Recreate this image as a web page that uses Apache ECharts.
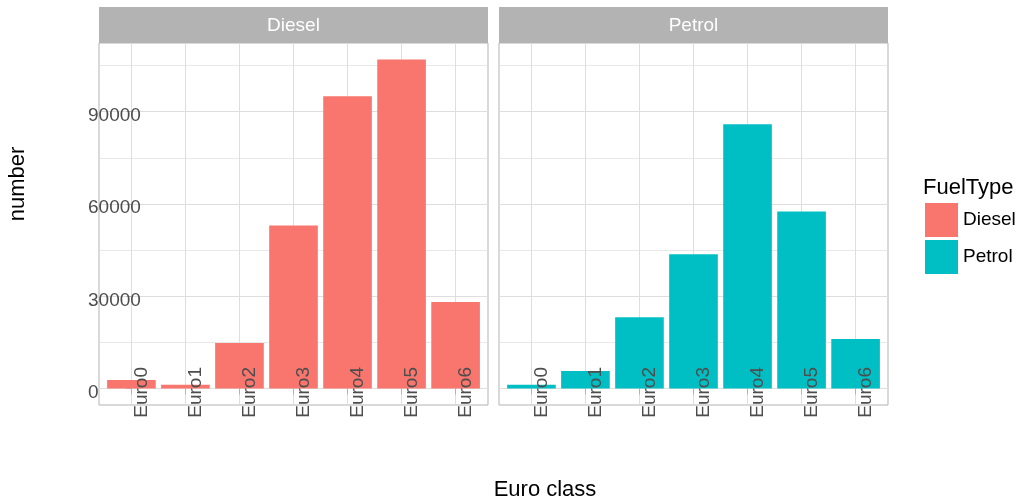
<!DOCTYPE html>
<html>
<head>
<meta charset="utf-8">
<script src="https://cdn.jsdelivr.net/npm/echarts@6/dist/echarts.min.js"></script>
<style>
  html, body { margin: 0; padding: 0; background: #ffffff; }
  #chart { width: 1021px; height: 504px; }
</style>
</head>
<body>
<div id="chart"></div>
<script>
// ---- data ----
const categories = ['Euro0', 'Euro1', 'Euro2', 'Euro3', 'Euro4', 'Euro5', 'Euro6'];
const facets = ['Diesel', 'Petrol'];
const dieselValues = [2800, 1200, 14800, 53000, 95000, 107000, 28100];
const petrolValues = [1200, 5700, 23200, 43700, 85900, 57600, 16100];
const yTickValues = [0, 30000, 60000, 90000];
const yMinorValues = [15000, 45000, 75000, 105000];
const fillColors = ['#F8766D', '#00BFC4'];

// ---- layout / style ----
const FONT = '"Liberation Sans", Arial, sans-serif';
const panels = [{ left: 99, width: 389 }, { left: 499, width: 389 }];
const panelTop = 43, panelHeight = 362;
const stripTop = 7, stripHeight = 36;
const borderGrey = '#B3B3B3', gridGrey = '#DEDEDE', textGrey = '#4D4D4D';

const seriesValues = [dieselValues, petrolValues];
const maxVal = Math.max(...dieselValues, ...petrolValues);
const yMin = -0.05 * maxVal, yMax = 1.05 * maxVal;
const catIdx = categories.map((c, i) => i);
const xMin = -0.6, xMax = categories.length - 0.4;
// labels in the reference sit ~10.5px to the right of their ticks
const labelShift = 10.5 * (xMax - xMin) / panels[0].width;

const grid = [], xAxis = [], yAxis = [], series = [], graphic = [];

panels.forEach((p, i) => {
  grid.push({
    left: p.left, top: panelTop, width: p.width, height: panelHeight,
    show: true, borderColor: borderGrey, borderWidth: 1, backgroundColor: '#ffffff'
  });
  // base x axis: ticks + vertical grid lines
  xAxis.push({
    type: 'value', gridIndex: i, position: 'bottom', min: xMin, max: xMax,
    axisLine: { show: false },
    axisTick: { show: true, customValues: catIdx, length: 6, lineStyle: { color: borderGrey, width: 1 } },
    axisLabel: { show: false },
    splitLine: { show: true, lineStyle: { color: gridGrey, width: 1 } }
  });
  // label-only x axis drawn above the bars
  xAxis.push({
    type: 'value', gridIndex: i, position: 'bottom', z: 10,
    min: xMin - labelShift, max: xMax - labelShift,
    axisLine: { show: false },
    axisTick: { show: false },
    splitLine: { show: false },
    axisLabel: {
      customValues: catIdx,
      formatter: v => categories[Math.round(v)],
      rotate: 90, margin: -38,
      fontSize: 19, color: textGrey, fontFamily: FONT
    }
  });
  yAxis.push({
    type: 'value', gridIndex: i, min: yMin, max: yMax, position: 'left',
    axisLine: { show: false },
    axisTick: { show: true, customValues: yTickValues, length: i === 0 ? 5 : 0, lineStyle: { color: borderGrey, width: 1 } },
    axisLabel: {
      show: i === 0, customValues: yTickValues, align: 'left', margin: 11,
      verticalAlign: 'top', lineHeight: 8,
      formatter: v => String(v),
      fontSize: 19, color: textGrey, fontFamily: FONT
    },
    splitLine: { show: true, lineStyle: { color: gridGrey, width: 1 } }
  });
  yAxis.push({
    type: 'value', gridIndex: i, min: yMin, max: yMax, position: 'right',
    axisLine: { show: false },
    axisTick: { show: true, customValues: yMinorValues, length: 0 },
    axisLabel: { show: false },
    splitLine: { show: true, lineStyle: { color: gridGrey, width: 0.7 } }
  });
  series.push({
    type: 'bar', name: facets[i], xAxisIndex: 2 * i, yAxisIndex: 2 * i,
    barWidth: '90%',
    itemStyle: { color: fillColors[i] },
    data: categories.map((c, k) => [k, seriesValues[i][k]]),
    silent: true
  });
  // facet strip
  graphic.push({
    type: 'rect', silent: true,
    shape: { x: p.left, y: stripTop, width: p.width, height: stripHeight },
    style: { fill: borderGrey }
  });
  graphic.push({
    type: 'text', silent: true,
    x: p.left + p.width / 2, y: stripTop + stripHeight / 2 + 1,
    style: { text: facets[i], fill: '#ffffff', font: '19px ' + FONT, align: 'center', verticalAlign: 'middle' }
  });
});

// axis titles and legend title
graphic.push({
  type: 'text', silent: true, x: 545, y: 490,
  style: { text: 'Euro class', fill: '#000000', font: '22px ' + FONT, align: 'center', verticalAlign: 'middle' }
});
graphic.push({
  type: 'text', silent: true, x: 18, y: 184, rotation: Math.PI / 2,
  style: { text: 'number', fill: '#000000', font: '22px ' + FONT, align: 'center', verticalAlign: 'middle' }
});
graphic.push({
  type: 'text', silent: true, x: 923, y: 188,
  style: { text: 'FuelType', fill: '#000000', font: '22px ' + FONT, align: 'left', verticalAlign: 'middle' }
});

const chart = echarts.init(document.getElementById('chart'), null, { renderer: 'canvas' });
chart.setOption({
  animation: false,
  backgroundColor: '#ffffff',
  grid, xAxis, yAxis, series, graphic,
  legend: {
    orient: 'vertical', left: 925, top: 203, padding: 0,
    itemWidth: 33, itemHeight: 34, itemGap: 3, icon: 'rect',
    data: facets,
    textStyle: { fontSize: 19, color: '#000000', fontFamily: FONT },
    selectedMode: false
  }
});
</script>
</body>
</html>
